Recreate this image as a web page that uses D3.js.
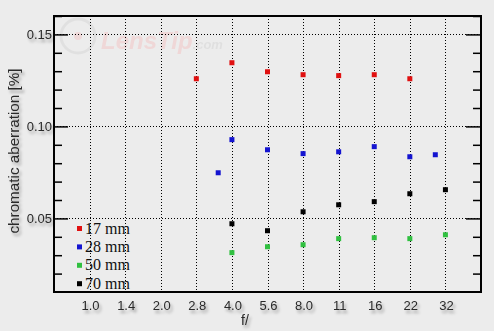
<!DOCTYPE html>
<html>
<head>
<meta charset="utf-8">
<script src="https://cdn.jsdelivr.net/npm/d3@7"></script>
<style>
  html, body { margin: 0; padding: 0; background: #ececec; }
  svg { display: block; }
  .lbl { font-family: "Liberation Sans", Arial, sans-serif; fill: #2a2a2a; }
  .leg { font-family: "Liberation Serif", "Times New Roman", serif; fill: #111; }
</style>
</head>
<body>
<svg id="chart" width="494" height="331"></svg>
<script>
// chromatic aberration vs aperture, four focal lengths
const stopLabels = ["1.0", "1.4", "2.0", "2.8", "4.0", "5.6", "8.0", "11", "16", "22", "32"];
const yTicks = [0.05, 0.10, 0.15];

const f17 = ["2.8", "4.0", "5.6", "8.0", "11", "16", "22"];
const ca17 = [0.1259, 0.1346, 0.1297, 0.1281, 0.1276, 0.1281, 0.1259];

const f28 = ["3.5", "4.0", "5.6", "8.0", "11", "16", "22", "29"];
const ca28 = [0.0748, 0.0928, 0.0873, 0.0852, 0.0862, 0.0890, 0.0835, 0.0846];

const f50 = ["4.0", "5.6", "8.0", "11", "16", "22", "32"];
const ca50 = [0.0314, 0.0346, 0.0357, 0.0390, 0.0395, 0.0390, 0.0411];

const f70 = ["4.0", "5.6", "8.0", "11", "16", "22", "32"];
const ca70 = [0.0471, 0.0433, 0.0536, 0.0574, 0.0591, 0.0634, 0.0656];

const seriesNames = ["17 mm", "28 mm", "50 mm", "70 mm"];
const seriesColors = ["#e01010", "#1414d0", "#30c040", "#000000"];
const seriesF = [f17, f28, f50, f70];
const seriesCA = [ca17, ca28, ca50, ca70];

const svg = d3.select("#chart");
const plotL = 54, plotR = 481, plotT = 16, plotB = 292;

// aperture -> position in stops (nominal labels sit exactly on their stop)
function stopOf(f) {
    const i = stopLabels.indexOf(f);
    return i >= 0 ? i : 2 * Math.log2(parseFloat(f));
}

const x = d3.scaleLinear().domain([-1, 11]).range([plotL, plotR]);
const y = d3.scaleLinear().domain([0.01, 0.16]).range([plotB, plotT]);

const defs = svg.append("defs");
const sh = defs.append("filter").attr("id", "shadow")
    .attr("x", "-30%").attr("y", "-30%").attr("width", "160%").attr("height", "190%");
sh.append("feGaussianBlur").attr("in", "SourceAlpha").attr("stdDeviation", 1.6).attr("result", "b");
sh.append("feOffset").attr("in", "b").attr("dx", 2).attr("dy", 3).attr("result", "o");
sh.append("feComponentTransfer").attr("in", "o").attr("result", "s")
    .append("feFuncA").attr("type", "linear").attr("slope", 0.35);
const mg = sh.append("feMerge");
mg.append("feMergeNode").attr("in", "s");
mg.append("feMergeNode").attr("in", "SourceGraphic");

// watermark
const wm = svg.append("g").attr("opacity", 0.55);
wm.append("circle").attr("cx", 78).attr("cy", 36).attr("r", 17)
    .attr("fill", "none").attr("stroke", "#d8d8d8").attr("stroke-width", 3);
wm.append("circle").attr("cx", 78).attr("cy", 36).attr("r", 4).attr("fill", "#f0c8c8");
const wmText = wm.append("text").attr("x", 101).attr("y", 49)
    .attr("font-family", "Liberation Sans, Arial, sans-serif")
    .attr("font-weight", "bold").attr("font-style", "italic");
wmText.append("tspan").attr("font-size", 24).attr("fill", "#f2c6c6").text("LensTip");
wmText.append("tspan").attr("font-size", 13).attr("fill", "#d6d6d6").text(".com");

// grid
const grid = svg.append("g").attr("stroke", "#000").attr("stroke-width", 1)
    .attr("stroke-dasharray", "1,2");
grid.selectAll("line.v").data(stopLabels).join("line")
    .attr("class", "v")
    .attr("x1", (d, i) => Math.round(x(i)) + 0.5).attr("x2", (d, i) => Math.round(x(i)) + 0.5)
    .attr("y1", plotT).attr("y2", plotB);
grid.selectAll("line.h").data(yTicks).join("line")
    .attr("class", "h")
    .attr("x1", plotL).attr("x2", plotR)
    .attr("y1", d => Math.round(y(d)) + 0.5).attr("y2", d => Math.round(y(d)) + 0.5);

// axes: inward ticks on both sides
const minor = d3.range(0.02, 0.16, 0.01).filter(v => !yTicks.some(t => Math.abs(t - v) < 1e-6));
const yLeft = svg.append("g").attr("transform", `translate(${plotL},0)`)
    .call(d3.axisRight(y).tickValues(yTicks).tickSize(14).tickFormat(""));
yLeft.append("g").call(d3.axisRight(y).tickValues(minor).tickSize(8).tickFormat(""));
const yRight = svg.append("g").attr("transform", `translate(${plotR},0)`)
    .call(d3.axisLeft(y).tickValues(yTicks).tickSize(15).tickFormat(""));
yRight.append("g").call(d3.axisLeft(y).tickValues(minor).tickSize(8).tickFormat(""));
svg.selectAll(".domain").remove();
svg.selectAll(".tick line").attr("stroke", "#000").attr("stroke-width", 1.5);

svg.append("rect").attr("x", plotL).attr("y", plotT)
    .attr("width", plotR - plotL).attr("height", plotB - plotT)
    .attr("fill", "none").attr("stroke", "#000").attr("stroke-width", 2);

// tick labels
const labels = svg.append("g").attr("filter", "url(#shadow)");
labels.selectAll("text.yt").data(yTicks).join("text")
    .attr("class", "lbl yt").attr("x", plotL - 2).attr("y", d => y(d) + 4.5)
    .attr("text-anchor", "end").attr("font-size", 13)
    .text(d => d.toFixed(2));
labels.selectAll("text.xt").data(stopLabels).join("text")
    .attr("class", "lbl xt").attr("x", (d, i) => x(i) + 1).attr("y", 310)
    .attr("text-anchor", "middle").attr("font-size", 13)
    .text(d => d);
labels.append("text").attr("class", "lbl").attr("x", 245).attr("y", 325)
    .attr("text-anchor", "middle").attr("font-size", 14).text("f/");
labels.append("text").attr("class", "lbl")
    .attr("transform", "translate(19,151) rotate(-90)")
    .attr("text-anchor", "middle").attr("font-size", 14)
    .attr("textLength", 165).attr("lengthAdjust", "spacingAndGlyphs")
    .text("chromatic aberration [%]");

// points
seriesNames.forEach((name, s) => {
    const pts = seriesF[s].map((f, i) => ({ f: f, v: seriesCA[s][i] }));
    svg.append("g").selectAll("rect").data(pts).join("rect")
        .attr("x", d => x(stopOf(d.f)) - 2.5)
        .attr("y", d => y(d.v) - 2.5)
        .attr("width", 5).attr("height", 5)
        .attr("fill", seriesColors[s]);
});

// legend
const leg = svg.append("g");
seriesNames.forEach((name, s) => {
    const ly = 228 + s * 18.4;
    leg.append("rect").attr("x", 77).attr("y", ly - 2).attr("width", 5).attr("height", 5)
        .attr("fill", seriesColors[s]);
    leg.append("text").attr("class", "leg").attr("x", 85).attr("y", ly + 5.5)
        .attr("font-size", 16).text(name);
});
</script>
</body>
</html>
